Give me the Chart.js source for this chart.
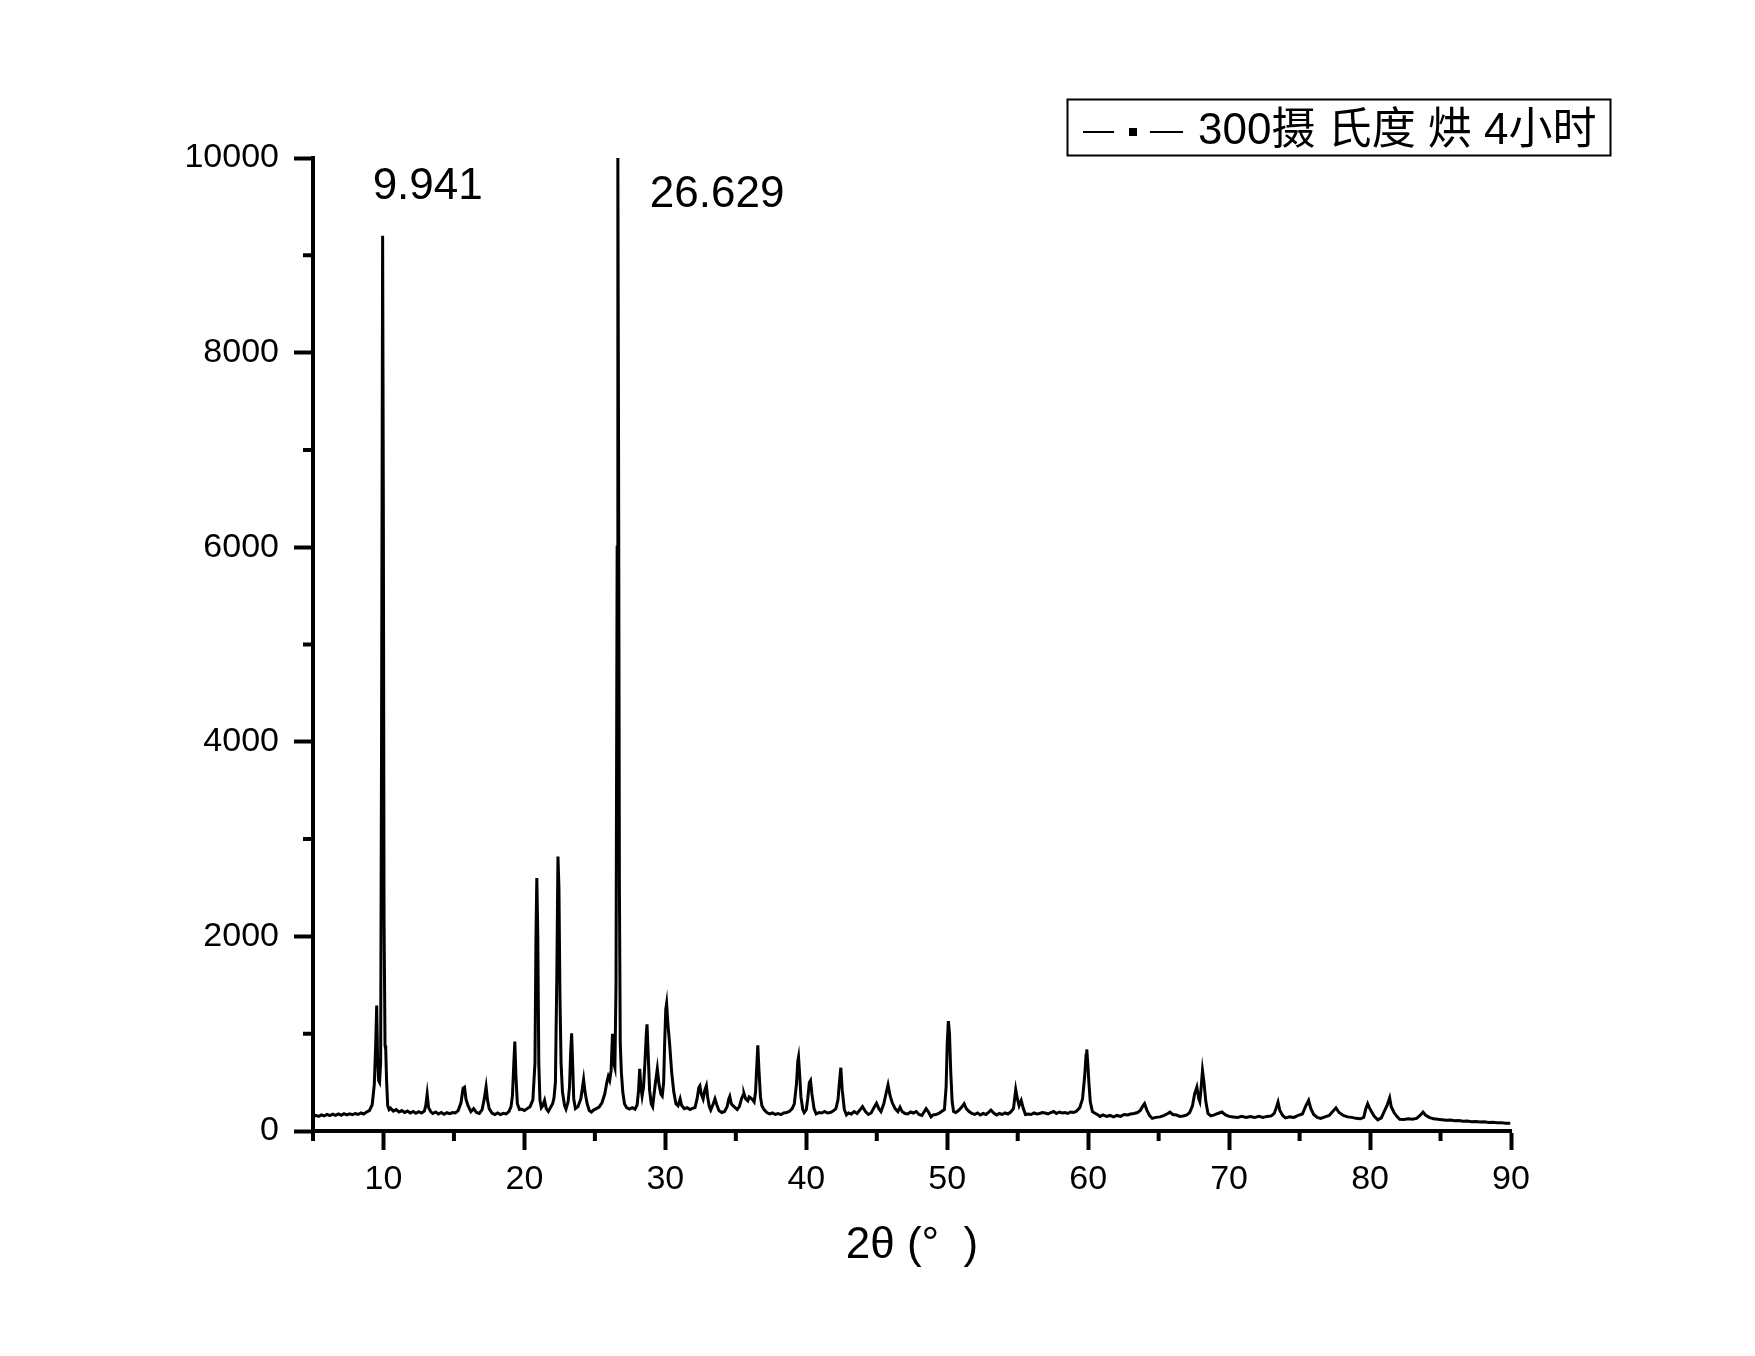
<!DOCTYPE html>
<html lang="zh">
<head>
<meta charset="UTF-8">
<title>XRD 300摄氏度烘4小时</title>
<style>
  body { margin: 0; background: #fff; }
  #xrd { display: block; }
</style>
</head>
<body>
<canvas id="xrd" width="1755" height="1356"></canvas>

<script src="https://cdn.jsdelivr.net/npm/chart.js"></script>
<script>
    // 2θ (deg) and intensity (counts)
    const twoTheta = [
        5.0, 5.2, 5.4, 5.6, 5.8, 6.0, 6.2, 6.4, 6.6, 6.8,
        7.0, 7.2, 7.4, 7.6, 7.8, 8.0, 8.2, 8.4, 8.6, 8.8,
        9.0, 9.2, 9.35, 9.45, 9.52, 9.58, 9.65, 9.72, 9.8, 9.86,
        9.94, 9.99, 10.04, 10.11, 10.16, 10.22, 10.3, 10.4, 10.5, 10.7,
        10.9, 11.1, 11.3, 11.5, 11.7, 11.9, 12.1, 12.3, 12.5, 12.7,
        12.9, 13.0, 13.1, 13.2, 13.35, 13.5, 13.7, 13.9, 14.1, 14.3,
        14.5, 14.7, 14.9, 15.1, 15.3, 15.5, 15.65, 15.75, 15.85, 16.0,
        16.2, 16.4, 16.6, 16.8, 17.0, 17.15, 17.28, 17.38, 17.5, 17.7,
        17.9, 18.1, 18.3, 18.5, 18.7, 18.9, 19.05, 19.15, 19.25, 19.32,
        19.4, 19.5, 19.65, 19.8, 20.0, 20.2, 20.4, 20.6, 20.75, 20.82,
        20.88, 20.95, 21.02, 21.1, 21.2, 21.3, 21.43, 21.55, 21.7, 21.85,
        22.0, 22.1, 22.2, 22.3, 22.38, 22.45, 22.52, 22.6, 22.7, 22.85,
        22.95, 23.1, 23.2, 23.28, 23.35, 23.42, 23.5, 23.62, 23.8, 24.0,
        24.2, 24.3, 24.45, 24.6, 24.75, 24.9, 25.1, 25.3, 25.5, 25.7,
        25.85, 25.95, 26.05, 26.15, 26.25, 26.33, 26.42, 26.5, 26.58, 26.63,
        26.68, 26.74, 26.8, 26.88, 26.98, 27.1, 27.25, 27.45, 27.65, 27.85,
        28.0, 28.1, 28.18, 28.26, 28.35, 28.45, 28.55, 28.65, 28.7, 28.78,
        28.88, 29.0, 29.1, 29.2, 29.3, 29.43, 29.55, 29.68, 29.78, 29.88,
        29.95, 30.03, 30.09, 30.18, 30.3, 30.45, 30.6, 30.75, 30.9, 31.05,
        31.15, 31.35, 31.55, 31.75, 31.95, 32.1, 32.25, 32.38, 32.45, 32.55,
        32.68, 32.8, 32.91, 33.0, 33.12, 33.22, 33.4, 33.52, 33.65, 33.8,
        34.0, 34.2, 34.38, 34.5, 34.57, 34.68, 34.8, 34.95, 35.1, 35.25,
        35.4, 35.52, 35.58, 35.7, 35.85, 35.95, 36.05, 36.2, 36.3, 36.4,
        36.48, 36.56, 36.65, 36.75, 36.85, 37.0, 37.2, 37.4, 37.6, 37.8,
        38.0, 38.2, 38.4, 38.6, 38.8, 39.0, 39.15, 39.3, 39.4, 39.45,
        39.52, 39.62, 39.75, 39.85, 40.0, 40.1, 40.22, 40.3, 40.4, 40.55,
        40.7, 40.9, 41.1, 41.3, 41.5, 41.7, 41.9, 42.1, 42.25, 42.35,
        42.45, 42.55, 42.7, 42.85, 43.0, 43.2, 43.4, 43.6, 43.8, 43.99,
        44.2, 44.4, 44.6, 44.8, 44.98, 45.15, 45.3, 45.5, 45.65, 45.8,
        45.95, 46.1, 46.3, 46.5, 46.65, 46.8, 47.0, 47.2, 47.4, 47.6,
        47.8, 48.0, 48.2, 48.5, 48.65, 48.85, 49.0, 49.2, 49.4, 49.6,
        49.8, 49.92, 50.0, 50.08, 50.16, 50.25, 50.35, 50.45, 50.6, 50.8,
        51.0, 51.2, 51.35, 51.55, 51.75, 51.95, 52.15, 52.35, 52.55, 52.75,
        52.95, 53.1, 53.3, 53.5, 53.7, 53.9, 54.1, 54.3, 54.5, 54.7,
        54.86, 54.98, 55.1, 55.25, 55.4, 55.55, 55.75, 55.95, 56.15, 56.35,
        56.55, 56.75, 56.95, 57.15, 57.35, 57.55, 57.75, 57.95, 58.15, 58.35,
        58.55, 58.75, 58.95, 59.15, 59.4, 59.6, 59.75, 59.85, 59.9, 59.97,
        60.05, 60.15, 60.3, 60.45, 60.65, 60.85, 61.05, 61.3, 61.55, 61.8,
        62.05, 62.3, 62.55, 62.8, 63.0, 63.25, 63.5, 63.7, 63.85, 64.0,
        64.15, 64.35, 64.55, 64.8, 65.1, 65.4, 65.65, 65.8, 66.0, 66.25,
        66.5, 66.75, 67.0, 67.2, 67.4, 67.55, 67.71, 67.85, 67.92, 68.0,
        68.11, 68.2, 68.35, 68.5, 68.7, 68.95, 69.2, 69.49, 69.75, 70.0,
        70.3, 70.6, 70.9, 71.2, 71.5, 71.8, 72.1, 72.4, 72.7, 73.0,
        73.2, 73.35, 73.47, 73.6, 73.8, 74.0, 74.3, 74.6, 74.9, 75.2,
        75.45, 75.64, 75.8, 76.0, 76.25, 76.5, 76.8, 77.1, 77.35, 77.58,
        77.8, 78.1, 78.4, 78.7, 79.0, 79.3, 79.55, 79.7, 79.83, 79.95,
        80.1, 80.3, 80.55, 80.8, 81.0, 81.2, 81.39, 81.5, 81.7, 81.9,
        82.1, 82.4, 82.7, 83.0, 83.3, 83.55, 83.76, 83.95, 84.2, 84.5,
        84.8, 85.1, 85.4, 85.7, 86.0, 86.3, 86.6, 86.9, 87.2, 87.5,
        87.8, 88.1, 88.4, 88.7, 89.0, 89.3, 89.6, 89.95
    ];
    const counts = [
        145, 160, 150, 165, 155, 170, 158, 172, 160, 175,
        162, 178, 165, 176, 168, 180, 170, 185, 175, 195,
        210, 270, 480, 900, 1290, 760, 520, 500, 700, 3800,
        9200, 6500, 2200, 880, 840, 520, 260, 220, 235, 205,
        220, 195, 210, 190, 205, 185, 200, 182, 198, 185,
        205, 260, 380, 240, 200, 180, 195, 175, 190, 172,
        188, 178, 190, 185, 210, 290, 440, 450, 330, 260,
        200, 230, 190, 180, 220, 330, 455, 320, 230, 185,
        170, 185, 168, 182, 175, 200, 250, 360, 700, 920,
        560, 280, 220, 225, 210, 230, 250, 320, 700, 2000,
        2600, 2000, 700, 320, 240, 260, 315, 230, 200, 240,
        280, 340, 500, 1600, 2820, 2500, 1400, 700, 400, 260,
        225, 300, 450, 800, 1005, 700, 330, 230, 250, 330,
        530, 400, 280, 210, 195, 215, 230, 245, 290, 380,
        500, 560, 520, 620, 1000, 700, 650, 1500, 6000, 10000,
        7000, 2500, 900, 600, 400, 280, 240, 225, 240, 225,
        270, 420, 640, 460, 360, 450, 700, 1000, 1096, 800,
        420, 280, 250, 380, 500, 640, 480, 380, 360, 500,
        900, 1250, 1310, 1100, 900, 600, 400, 280, 260, 330,
        265, 230, 240, 220, 235, 240, 330, 450, 465, 380,
        330, 420, 465, 350, 250, 215, 280, 330, 270, 210,
        190, 200, 250, 330, 355, 280, 260, 240, 220, 250,
        330, 370, 385, 330, 310, 350, 340, 320, 300, 400,
        650, 880, 600, 350, 260, 220, 190, 175, 185, 170,
        180, 168, 185, 190, 200, 230, 280, 480, 720, 760,
        600, 350, 220, 190, 220, 330, 500, 520, 380, 230,
        175, 190, 185, 200, 185, 190, 205, 230, 320, 500,
        650, 420, 220, 165, 185, 175, 200, 180, 215, 250,
        200, 170, 185, 240, 285, 230, 200, 280, 380, 475,
        360, 290, 230, 200, 245, 200, 180, 175, 195, 185,
        200, 170, 160, 230, 200, 145, 165, 170, 180, 200,
        220, 450, 900, 1130, 1000, 600, 300, 200, 190, 210,
        240, 280, 230, 200, 180, 170, 185, 165, 180, 170,
        195, 215, 185, 165, 180, 170, 185, 175, 195, 230,
        427, 330, 260, 314, 230, 170, 175, 170, 185, 175,
        180, 190, 185, 175, 190, 200, 180, 195, 185, 190,
        180, 195, 190, 200, 240, 330, 560, 780, 838, 700,
        500, 300, 200, 185, 170, 150, 165, 150, 160, 145,
        160, 150, 170, 165, 175, 180, 190, 210, 250, 280,
        220, 160, 130, 140, 145, 160, 180, 194, 170, 165,
        150, 155, 165, 190, 260, 380, 451, 330, 302, 420,
        622, 520, 300, 180, 155, 165, 180, 195, 165, 150,
        145, 140, 150, 140, 148, 138, 150, 140, 150, 155,
        180, 240, 297, 210, 160, 135, 145, 140, 160, 175,
        260, 314, 230, 170, 140, 130, 145, 160, 200, 238,
        190, 160, 145, 140, 130, 125, 140, 230, 280, 240,
        200, 150, 115, 135, 200, 260, 341, 250, 190, 150,
        120, 118, 125, 120, 130, 160, 195, 160, 140, 125,
        120, 115, 110, 112, 105, 108, 100, 102, 96, 98,
        92, 95, 88, 90, 84, 86, 80, 80
    ];

    const xMajorTicks = [10, 20, 30, 40, 50, 60, 70, 80, 90];
    const xMinorTicks = [5, 15, 25, 35, 45, 55, 65, 75, 85];
    const yMajorTicks = [0, 2000, 4000, 6000, 8000, 10000];
    const yMinorTicks = [1000, 3000, 5000, 7000, 9000];

    const seriesLabel = '300摄 氏度 烘 4小时';
    const xTitle = '2θ (°  )';
    const peakLabels = ['9.941', '26.629'];
    const peakAngles = [9.941, 26.629];
    const peakLabelLevels = [9700, 9620];

    const FONT = "Arial, 'Liberation Sans', 'Noto Sans CJK SC', sans-serif";
    Chart.defaults.font.family = FONT;
    Chart.defaults.color = '#000';

    // short outward ticks between the labelled ones
    const minorTicks = {
        id: 'minorTicks',
        afterDraw(chart) {
            const { ctx, chartArea, scales } = chart;
            ctx.save();
            ctx.strokeStyle = '#000';
            ctx.lineWidth = 4;
            ctx.beginPath();
            xMinorTicks.forEach(v => {
                const x = scales.x.getPixelForValue(v);
                ctx.moveTo(x, chartArea.bottom);
                ctx.lineTo(x, chartArea.bottom + 10);
            });
            yMinorTicks.forEach(v => {
                const y = scales.y.getPixelForValue(v);
                ctx.moveTo(chartArea.left, y);
                ctx.lineTo(chartArea.left - 10, y);
            });
            ctx.stroke();
            ctx.restore();
        }
    };

    // peak position notes
    const peakNotes = {
        id: 'peakNotes',
        afterDatasetsDraw(chart) {
            const { ctx, scales } = chart;
            const dx = [-10, 32];
            ctx.save();
            ctx.fillStyle = '#000';
            ctx.font = '44px ' + FONT;
            ctx.textAlign = 'left';
            ctx.textBaseline = 'middle';
            peakLabels.forEach((t, i) => {
                ctx.fillText(t,
                    scales.x.getPixelForValue(peakAngles[i]) + dx[i],
                    scales.y.getPixelForValue(peakLabelLevels[i]));
            });
            ctx.restore();
        }
    };

    // framed legend, Origin style: dash - dot - dash
    const boxLegend = {
        id: 'boxLegend',
        afterDraw(chart) {
            const { ctx, chartArea } = chart;
            const right = chartArea.right + 99;
            const top = chartArea.top - 59;
            const left = right - 543;
            const h = 56;
            const cy = top + h / 2 + 5;
            ctx.save();
            ctx.strokeStyle = '#000';
            ctx.lineWidth = 2;
            ctx.strokeRect(left + 0.5, top + 0.5, right - left, h);
            ctx.beginPath();
            ctx.moveTo(left + 16, cy);
            ctx.lineTo(left + 47, cy);
            ctx.moveTo(left + 83, cy);
            ctx.lineTo(left + 116, cy);
            ctx.stroke();
            ctx.fillStyle = '#000';
            ctx.fillRect(left + 62, cy - 4, 8, 8);
            ctx.font = '44px ' + FONT;
            ctx.textAlign = 'left';
            ctx.textBaseline = 'middle';
            ctx.fillText(chart.data.datasets[0].label, left + 131, cy);
            ctx.restore();
        }
    };

    const ctx = document.getElementById('xrd').getContext('2d');

    new Chart(ctx, {
        type: 'line',
        data: {
            datasets: [{
                label: seriesLabel,
                data: twoTheta.map((t, i) => ({ x: t, y: counts[i] })),
                borderColor: '#000',
                borderWidth: 3,
                pointRadius: 0,
                tension: 0,
                fill: false
            }]
        },
        options: {
            responsive: false,
            animation: false,
            events: [],
            layout: {
                padding: { top: 158, right: 244, bottom: 0, left: 0 }
            },
            plugins: {
                legend: { display: false },
                tooltip: { enabled: false }
            },
            scales: {
                x: {
                    type: 'linear',
                    min: 5,
                    max: 90,
                    afterBuildTicks: s => { s.ticks = xMajorTicks.map(v => ({ value: v })); },
                    afterFit: s => { s.height = 225; },
                    grid: {
                        drawOnChartArea: false,
                        drawTicks: true,
                        tickLength: 19,
                        tickWidth: 4,
                        tickColor: '#000'
                    },
                    border: { display: true, color: '#000', width: 4 },
                    ticks: {
                        font: { size: 34 },
                        padding: 9,
                        maxRotation: 0,
                        autoSkip: false,
                        callback: v => String(v)
                    },
                    title: {
                        display: true,
                        text: xTitle,
                        font: { size: 44 },
                        padding: { top: 0, bottom: 84 }
                    }
                },
                y: {
                    type: 'linear',
                    min: 0,
                    max: 10000,
                    afterBuildTicks: s => { s.ticks = yMajorTicks.map(v => ({ value: v })); },
                    afterFit: s => { s.width = 313; },
                    grid: {
                        drawOnChartArea: false,
                        drawTicks: true,
                        tickLength: 19,
                        tickWidth: 4,
                        tickColor: '#000'
                    },
                    border: { display: true, color: '#000', width: 4 },
                    ticks: {
                        font: { size: 34 },
                        padding: 15,
                        callback: v => String(v)
                    }
                }
            }
        },
        plugins: [minorTicks, peakNotes, boxLegend]
    });
</script>
</body>
</html>
